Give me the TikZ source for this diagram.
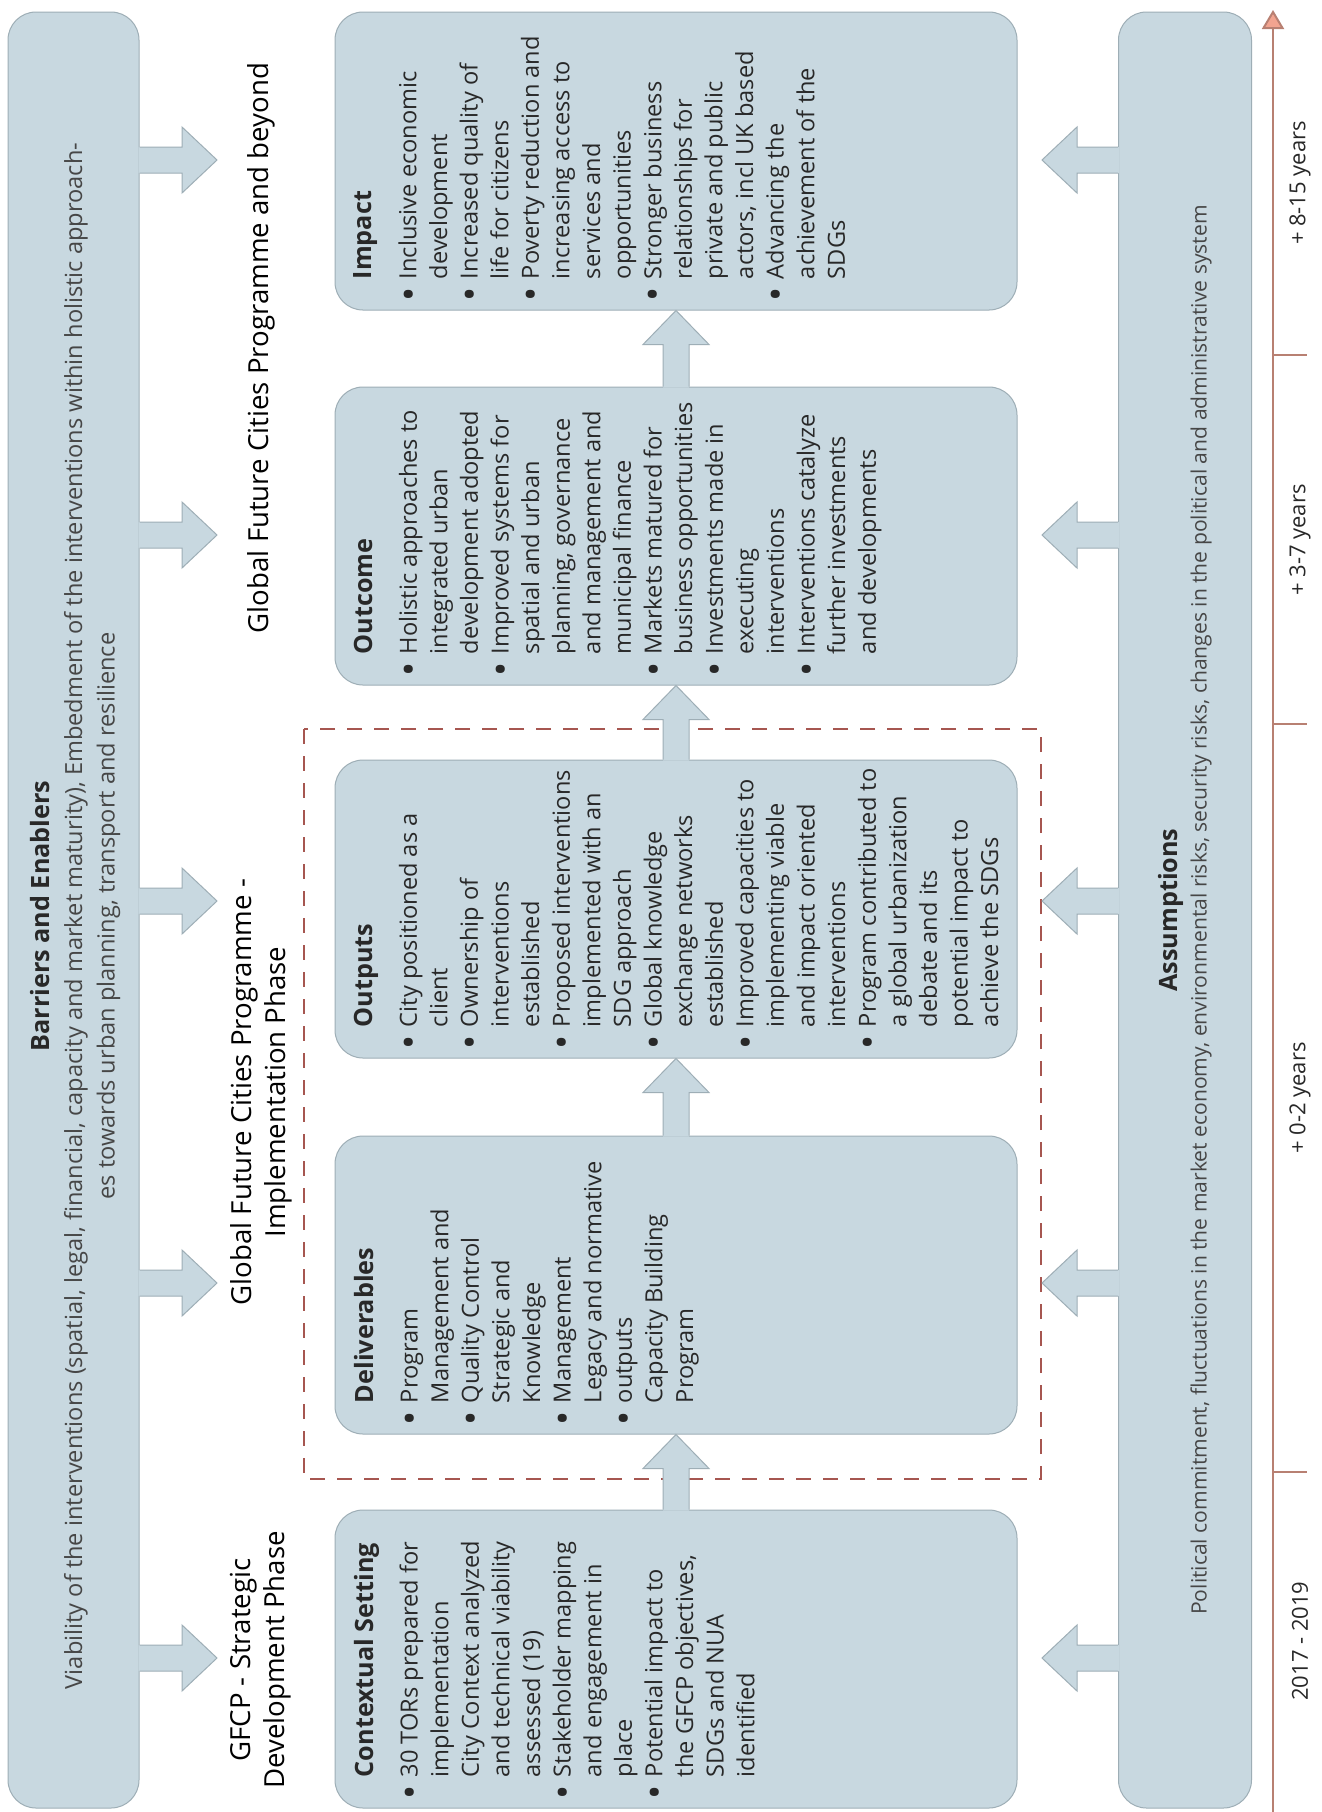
\documentclass[tikz,border=0pt]{standalone}
\usepackage{fontspec}
\setmainfont{Open Sans}
\usetikzlibrary{calc,arrows.meta}

\definecolor{boxfill}{RGB}{200,216,224}
\definecolor{boxline}{RGB}{158,174,182}
\definecolor{dashred}{RGB}{166,86,80}
\definecolor{tlline}{RGB}{184,128,114}
\definecolor{tlhead}{RGB}{242,164,144}
\definecolor{txt}{RGB}{40,40,40}
\definecolor{sidetxt}{RGB}{70,70,70}

\newcommand\bl{\llap{\raisebox{-0.45ex}{\scalebox{1.6}{\textbullet}}\hspace{4pt}}}
\newcommand\bodyfont{\fontsize{11.8}{15.3}\selectfont}
\newcommand\headfont{\fontsize{12.6}{15.3}\selectfont\bfseries}
\newcommand\phasefont{\fontsize{13.8}{17}\selectfont}
\newcommand\sidefont{\fontsize{11.8}{16.2}\selectfont}

\tikzset{
  box/.style={draw=boxline, fill=boxfill, line width=0.5pt, rounded corners=14pt},
  midbox/.style={box, minimum width=341pt, minimum height=149pt},
  sidebox/.style={box, minimum height=898pt},
  boxtext/.style={rotate=90, anchor=north west, align=left, inner sep=0pt,
    font=\bodyfont, text=txt},
  phase/.style={rotate=90, align=center, inner sep=0pt, font=\phasefont},
  years/.style={rotate=90, inner sep=0pt, font=\fontsize{11}{13}\selectfont, text=txt},
  arrline/.style={draw=boxline, line width=0.5pt},
  tl/.style={draw=tlline, line width=1pt}
}

% block arrow from lower box #1 up to upper box #2
\newcommand\blockup[2]{%
  \coordinate (#1-b) at (#1.north);
  \coordinate (#1-h) at ($(#2.south)+(0,34)$);
  \fill[boxfill] ($(#1-b)+(-13,1)$) -- ($(#1-h)+(-13,0)$) -- ($(#1-h)+(-33,0)$)
    -- (#2.south) -- ($(#1-h)+(33,0)$) -- ($(#1-h)+(13,0)$) -- ($(#1-b)+(13,1)$) -- cycle;
  \draw[arrline] ($(#1-b)+(-13,0)$) -- ($(#1-h)+(-13,0)$) -- ($(#1-h)+(-33,0)$)
    -- (#2.south) -- ($(#1-h)+(33,0)$) -- ($(#1-h)+(13,0)$) -- ($(#1-b)+(13,0)$);
}
% block arrow from side box #1 to the right, tip at #2
\newcommand\blockright[2]{%
  \coordinate (#2-b) at (#1.east |- #2);
  \fill[boxfill] ($(#2-b)+(-1,-13)$) -- ($(#2)+(-35,-13)$) -- ($(#2)+(-35,-33)$)
    -- (#2) -- ($(#2)+(-35,33)$) -- ($(#2)+(-35,13)$) -- ($(#2-b)+(-1,13)$) -- cycle;
  \draw[arrline] ($(#2-b)+(0,-13)$) -- ($(#2)+(-35,-13)$) -- ($(#2)+(-35,-33)$)
    -- (#2) -- ($(#2)+(-35,33)$) -- ($(#2)+(-35,13)$) -- ($(#2-b)+(0,13)$);
}
% block arrow from side box #1 to the left, tip at #2
\newcommand\blockleft[2]{%
  \coordinate (#2-b) at (#1.west |- #2);
  \fill[boxfill] ($(#2-b)+(1,-13)$) -- ($(#2)+(35,-13)$) -- ($(#2)+(35,-33)$)
    -- (#2) -- ($(#2)+(35,33)$) -- ($(#2)+(35,13)$) -- ($(#2-b)+(1,13)$) -- cycle;
  \draw[arrline] ($(#2-b)+(0,-13)$) -- ($(#2)+(35,-13)$) -- ($(#2)+(35,-33)$)
    -- (#2) -- ($(#2)+(35,33)$) -- ($(#2)+(35,13)$) -- ($(#2-b)+(0,13)$);
}

\begin{document}
\begin{tikzpicture}[x=0.5pt, y=-0.5pt]
	\fill[white] (0,0) rectangle (1322,1812);
	\useasboundingbox (0,0) rectangle (1322,1812);

	% side boxes
	\node[sidebox, minimum width=65.5pt] (barriers) at (73.5,910) {};
	\node[sidebox, minimum width=66.5pt] (assump) at (1185,910) {};

	% the five stages
	\node[midbox] (impact) at (676,161) {};
	\node[midbox] (outcome) at (676,536) {};
	\node[midbox] (outputs) at (676,909) {};
	\node[midbox] (deliv) at (676,1285) {};
	\node[midbox] (context) at (676,1659) {};

	% implementation phase frame
	\draw[dashred, line width=1pt, dash pattern=on 7.5pt off 6pt]
		(304,729) rectangle (1041,1479);

	% arrows between stages
	\blockup{context}{deliv}
	\blockup{deliv}{outputs}
	\blockup{outputs}{outcome}
	\blockup{outcome}{impact}

	% arrows from the side boxes
	\foreach \i/\y in {1/160, 2/535, 3/901, 4/1283, 5/1658} {
		\coordinate (bt\i) at (217,\y);
		\coordinate (at\i) at (1042,\y);
		\blockright{barriers}{bt\i}
		\blockleft{assump}{at\i}
	}

	% box texts
	\node[boxtext] (impact-t) at ($(impact.south west)+(19,-31)$) {%
		{\headfont Impact}\\[7pt]
		\bl Inclusive economic\\
		development\\
		\bl Increased quality of\\
		life for citizens\\
		\bl Poverty reduction and\\
		increasing access to\\
		services and\\
		opportunities\\
		\bl Stronger business\\
		relationships for\\
		private and public\\
		actors, incl UK based\\
		\bl Advancing the\\
		achievement of the\\
		SDGs};
	\node[boxtext] (outcome-t) at ($(outcome.south west)+(19,-31)$) {%
		{\headfont Outcome}\\[7pt]
		\bl Holistic approaches to\\
		integrated urban\\
		development adopted\\
		\bl Improved systems for\\
		spatial and urban\\
		planning, governance\\
		and management and\\
		municipal finance\\
		\bl Markets matured for\\
		business opportunities\\
		\bl Investments made in\\
		executing\\
		interventions\\
		\bl Interventions catalyze\\
		further investments\\
		and developments};
	\node[boxtext] (outputs-t) at ($(outputs.south west)+(19,-31)$) {%
		{\headfont Outputs}\\[7pt]
		\bl City positioned as a\\
		client\\
		\bl Ownership of\\
		interventions\\
		established\\
		\bl Proposed interventions\\
		implemented with an\\
		SDG approach\\
		\bl Global knowledge\\
		exchange networks\\
		established\\
		\bl Improved capacities to\\
		implementing viable\\
		and impact oriented\\
		interventions\\
		\bl Program contributed to\\
		a global urbanization\\
		debate and its\\
		potential impact to\\
		achieve the SDGs};
	\node[boxtext] (deliv-t) at ($(deliv.south west)+(19,-31)$) {%
		{\headfont Deliverables}\\[7pt]
		\bl Program\\
		Management and\\
		\bl Quality Control\\
		Strategic and\\
		Knowledge\\
		\bl Management\\
		Legacy and normative\\
		\bl outputs\\
		Capacity Building\\
		Program};
	\node[boxtext] (context-t) at ($(context.south west)+(19,-31)$) {%
		{\headfont Contextual Setting}\\[7pt]
		\bl 30 TORs prepared for\\
		implementation\\
		City Context analyzed\\
		and technical viability\\
		assessed (19)\\
		\bl Stakeholder mapping\\
		and engagement in\\
		place\\
		\bl Potential impact to\\
		the GFCP objectives,\\
		SDGs and NUA\\
		identified};

	% side texts
	\node[rotate=90, align=center, inner sep=0pt, font=\sidefont, text=sidetxt]
		(barriers-t) at ($(barriers.center)+(2,6)$) {%
		{\headfont\color{txt} Barriers and Enablers}\\
		Viability of the interventions (spatial, legal, financial, capacity and market maturity), Embedment of the interventions within holistic approach-\\
		es towards urban planning, transport and resilience};
	\node[rotate=90, align=center, inner sep=0pt, font=\fontsize{10.55}{14.5}\selectfont, text=sidetxt]
		(assump-t) at (assump.center) {%
		{\headfont\color{txt} Assumptions}\\
		Political commitment, fluctuations in the market economy, environmental risks, security risks, changes in the political and administrative system};

	% phase labels
	\node[phase] (ph3) at (261,348) {Global Future Cities Programme and beyond};
	\node[phase] (ph2) at (261,1092) {Global Future Cities Programme -\\Implementation Phase};
	\node[phase] (ph1) at (261,1660) {GFCP - Strategic\\Development Phase};

	% time line
	\draw[tl, -{Triangle[width=11pt, length=9.5pt, fill=tlhead]}] (1273,1812) -- (1273,10);
	\foreach \y in {355, 724, 1472}
		\draw[tl] (1273,\y) -- (1307,\y);
	\node[years] (y4) at (1300,183) {+ 8-15 years};
	\node[years] (y3) at (1300,540) {+ 3-7 years};
	\node[years] (y2) at (1300,1098) {+ 0-2 years};
	\node[years] (y1) at (1300,1641) {2017 - 2019};
\end{tikzpicture}
\end{document}
